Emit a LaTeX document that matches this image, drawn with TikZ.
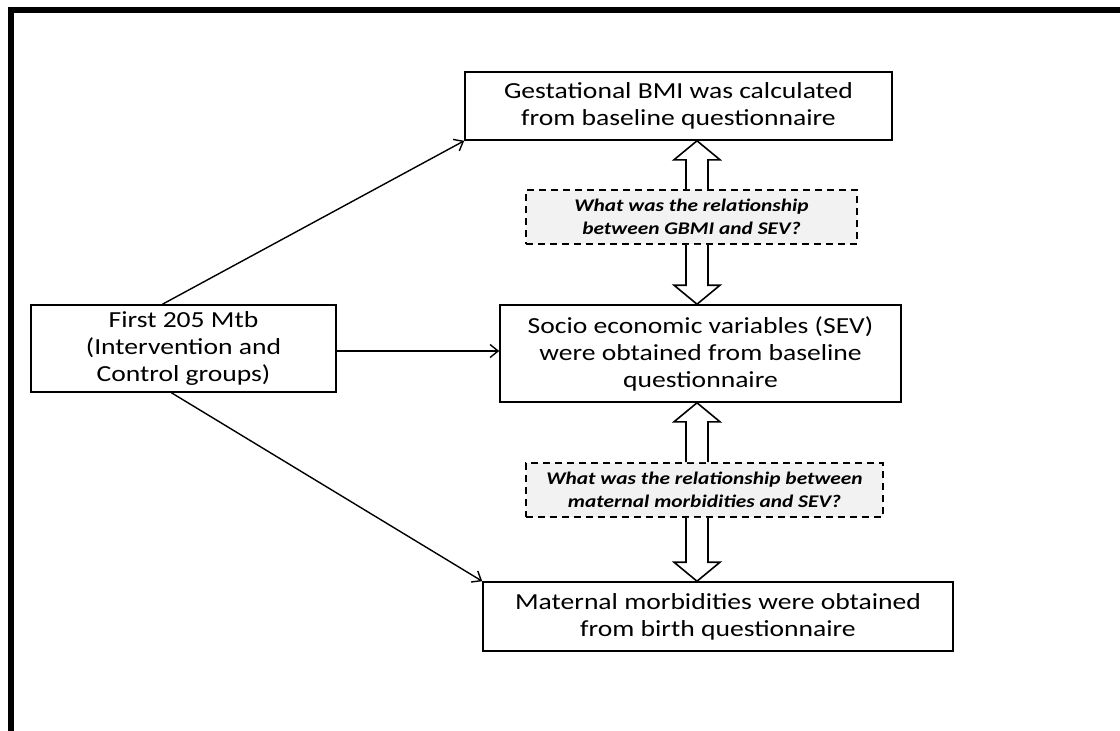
\documentclass[tikz,border=0pt]{standalone}
\usepackage{fontspec}
\setmainfont{Carlito}[FakeStretch=1.2]
\usetikzlibrary{arrows.meta,calc}
\definecolor{qfill}{HTML}{F2F2F2}
\tikzset{
  box/.style={draw=black, line width=1.6pt, inner sep=0pt, align=center,
    font=\fontsize{23}{27}\selectfont},
  qbox/.style={draw=black, fill=qfill, line width=1.6pt, dash pattern=on 7pt off 5pt,
    inner sep=0pt, align=center, font=\fontsize{17.8}{23}\selectfont\bfseries\itshape},
  conn/.style={draw=black, line width=1.4pt, -{Straight Barb[length=8pt,width=13pt,line width=1.4pt]}},
  hollow/.style={draw=black, line width=1.6pt, fill=white, line join=miter},
  frame/.style={draw=black, line width=6pt}
}
\begin{document}
\begin{tikzpicture}[x=1pt,y=-1pt]
\useasboundingbox (0,0) rectangle (1120,731);
\draw[frame] (11,731) -- (11,10) -- (1120,10);

\node[box, minimum width=427pt, minimum height=68pt] (tb) at (678.5,106) {Gestational BMI was calculated\\from baseline questionnaire};
\node[qbox, minimum width=331pt, minimum height=54pt] (q1) at (691.5,217) {What was the relationship\\between GBMI and SEV?};
\node[box, minimum width=401pt, minimum height=97pt] (sev) at (700.5,353.5) {Socio economic variables (SEV)\\were obtained from baseline\\questionnaire};
\node[qbox, minimum width=357pt, minimum height=54pt] (q2) at (704.5,490) {What was the relationship  between\\maternal morbidities and SEV?};
\node[box, minimum width=470pt, minimum height=69pt] (mat) at (718,616.5) {Maternal morbidities were obtained\\from birth questionnaire};
\node[box, minimum width=305pt, minimum height=87pt] (left) at (183.5,348.5) {First 205 Mtb\\(Intervention and\\Control groups)};

\coordinate (ax) at (697,0);

% connectors
\draw[conn] ($(left.north)+(-21,0)$) -- (tb.south west);
\draw[conn] ($(left.east)+(0,2.5)$) -- ($(left.east -| sev.west)+(0,2.5)$);
\draw[conn] ($(left.south)+(-12,0)$) -- (mat.north west);

% hollow double arrows
\coordinate (a1s) at (q1.north -| ax);
\coordinate (a1t) at (tb.south -| ax);
\draw[hollow] ($(a1s)+(-11,0)$) -- ($(a1t)+(-11,19)$) -- ($(a1t)+(-23,19)$) -- (a1t) -- ($(a1t)+(23,19)$) -- ($(a1t)+(11,19)$) -- ($(a1s)+(11,0)$);
\coordinate (a2s) at (q1.south -| ax);
\coordinate (a2t) at (sev.north -| ax);
\draw[hollow] ($(a2s)+(-11,0)$) -- ($(a2t)+(-11,-19)$) -- ($(a2t)+(-23,-19)$) -- (a2t) -- ($(a2t)+(23,-19)$) -- ($(a2t)+(11,-19)$) -- ($(a2s)+(11,0)$);
\coordinate (a3s) at (q2.north -| ax);
\coordinate (a3t) at (sev.south -| ax);
\draw[hollow] ($(a3s)+(-11,0)$) -- ($(a3t)+(-11,19)$) -- ($(a3t)+(-23,19)$) -- (a3t) -- ($(a3t)+(23,19)$) -- ($(a3t)+(11,19)$) -- ($(a3s)+(11,0)$);
\coordinate (a4s) at (q2.south -| ax);
\coordinate (a4t) at (mat.north -| ax);
\draw[hollow] ($(a4s)+(-11,0)$) -- ($(a4t)+(-11,-19)$) -- ($(a4t)+(-23,-19)$) -- (a4t) -- ($(a4t)+(23,-19)$) -- ($(a4t)+(11,-19)$) -- ($(a4s)+(11,0)$);
\end{tikzpicture}
\end{document}
